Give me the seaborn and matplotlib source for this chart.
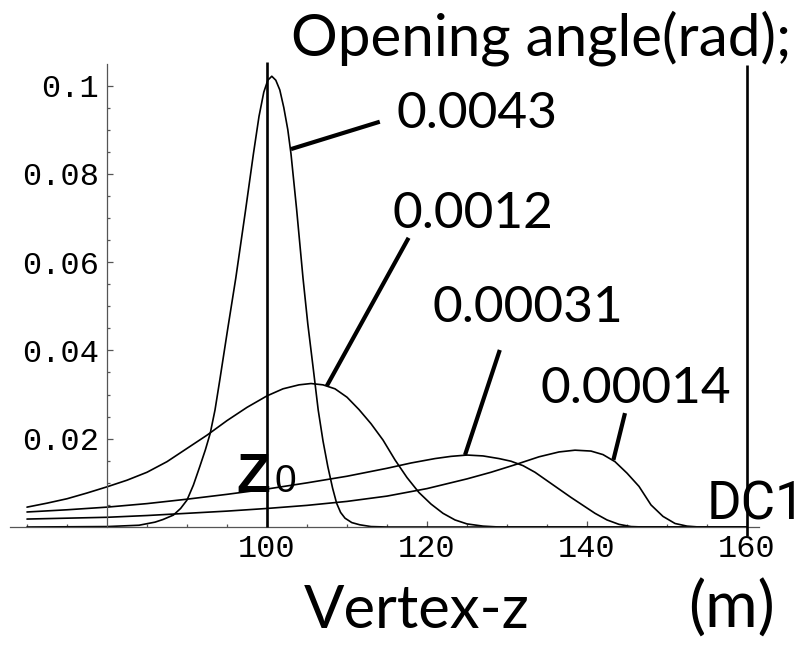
import numpy as np
import pandas as pd
import matplotlib
matplotlib.use("Agg")
import matplotlib.pyplot as plt
import seaborn as sns
from matplotlib.ticker import FixedLocator

# Vertex-z distributions for each opening angle (rad)
angles = ["0.0043", "0.0012", "0.00031", "0.00014"]

z_0043 = [70, 80, 84, 86, 87, 88.3, 89.2, 90, 90.8, 91.6, 92.3, 92.9, 93.5, 94.1, 95.1,
          96.1, 97.3, 98.3, 99.0, 99.6, 100.1, 100.6, 101.1, 101.6, 102.1, 102.6, 103.0,
          103.7, 104.5, 105.1, 105.8, 106.4, 107.0, 107.6, 108.2, 108.7, 109.2, 109.75,
          110.6, 111.6, 113, 115, 160]
p_0043 = [0.0, 0.0001, 0.0004, 0.0011, 0.0017, 0.0027, 0.0042, 0.0061, 0.0095, 0.0137,
          0.0175, 0.0212, 0.0265, 0.0333, 0.0450, 0.0564, 0.0715, 0.0845, 0.0930, 0.0985,
          0.1012, 0.1021, 0.1012, 0.0990, 0.0950, 0.0900, 0.0845, 0.0720, 0.0564, 0.0460,
          0.0356, 0.0265, 0.0195, 0.0137, 0.0088, 0.0054, 0.0033, 0.0020, 0.0010, 0.0005,
          0.0001, 0.0, 0.0]

z_0012 = [70, 72.5, 75, 77.5, 80, 82.5, 85, 87.5, 90, 92.5, 95, 97.5, 100, 102, 104,
          105.5, 107, 108.5, 110, 111.5, 113, 114.5, 116, 117.5, 119, 120.5, 122, 123.5,
          125, 127, 129, 160]
p_0012 = [0.0045, 0.0054, 0.0064, 0.0077, 0.0091, 0.0106, 0.0124, 0.0148, 0.0178, 0.0208,
          0.0241, 0.0271, 0.0297, 0.0313, 0.0322, 0.0325, 0.0322, 0.0313, 0.0294, 0.0266,
          0.0234, 0.0197, 0.0152, 0.0112, 0.0078, 0.0052, 0.0031, 0.0016, 0.0007, 0.0002,
          0.0, 0.0]

z_00031 = [70, 75, 80, 85, 90, 95, 100, 105, 110, 115, 118, 121, 123, 125, 127, 129,
           130.5, 132, 133.5, 135, 136.5, 138, 139.5, 141, 142.5, 144, 145.5, 147, 160]
p_00031 = [0.0034, 0.0039, 0.0045, 0.0053, 0.0063, 0.0074, 0.0086, 0.0100, 0.0115, 0.0133,
           0.0145, 0.0155, 0.0160, 0.0163, 0.0161, 0.0155, 0.0149, 0.0139, 0.0124, 0.0105,
           0.0086, 0.0067, 0.0049, 0.0031, 0.0016, 0.0006, 0.0001, 0.0, 0.0]

z_00014 = [70, 75, 80, 85, 90, 95, 100, 105, 110, 115, 120, 125, 128, 131, 134, 136.5,
           138.5, 140.5, 142, 143.5, 145, 146.5, 148, 149.5, 151, 152.5, 154, 160]
p_00014 = [0.0018, 0.0020, 0.0022, 0.0026, 0.0031, 0.0036, 0.0042, 0.0049, 0.0058, 0.0070,
           0.0087, 0.0109, 0.0124, 0.0141, 0.0159, 0.0170, 0.0174, 0.0172, 0.0164, 0.0148,
           0.0122, 0.0092, 0.0050, 0.0024, 0.0008, 0.0002, 0.0, 0.0]

curves = {"0.0043": (z_0043, p_0043), "0.0012": (z_0012, p_0012),
          "0.00031": (z_00031, p_00031), "0.00014": (z_00014, p_00014)}

# Reference positions: target point Z0 and drift chamber DC1
ref_z = [100, 160]

x_ticks = [100, 120, 140, 160]
x_tick_labels = ["100", "120", "140", "160"]
y_ticks = [0.02, 0.04, 0.06, 0.08, 0.1]
y_tick_labels = ["0.02", "0.04", "0.06", "0.08", "0.1"]

rows = []
for a in angles:
    zs, ps = curves[a]
    for z, p in zip(zs, ps):
        rows.append({"angle": a, "z": z, "p": p})
df = pd.DataFrame(rows)

sns.set_theme(style="white")
plt.rcParams["font.family"] = ["Lato", "DejaVu Sans"]
plt.rcParams["text.color"] = "black"

fig = plt.figure(figsize=(8.07, 6.47), dpi=100)
ax = fig.add_axes([0, 0, 1, 1])
ax.set_xlim(66.625, 167.5)
ax.set_ylim(-0.02718, 0.11937)

sns.lineplot(data=df, x="z", y="p", units="angle", estimator=None, sort=False,
             color="black", lw=1.2, ax=ax, legend=False)

# Z0 and DC1 markers
ax.vlines(ref_z[0], 0, 0.1053, color="black", lw=1.9, zorder=3)
ax.vlines(ref_z[1], -0.002, 0.1046, color="black", lw=1.9, zorder=3)

# Axes crossing at (80, 0)
for s in ["top", "right"]:
    ax.spines[s].set_visible(False)
ax.spines["left"].set_position(("data", 80))
ax.spines["bottom"].set_position(("data", 0))
ax.spines["left"].set_bounds(0, 0.1049)
ax.spines["bottom"].set_bounds(67.9, 161.5)
for s in ["left", "bottom"]:
    ax.spines[s].set_color("#555555")
    ax.spines[s].set_linewidth(0.9)

ax.xaxis.set_major_locator(FixedLocator(x_ticks))
ax.set_xticklabels(x_tick_labels)
ax.xaxis.set_minor_locator(FixedLocator([70, 75, 85, 90, 95, 105, 110, 115, 125, 130,
                                         135, 145, 150, 155]))
ax.yaxis.set_major_locator(FixedLocator(y_ticks))
ax.set_yticklabels(y_tick_labels)
ax.yaxis.set_minor_locator(FixedLocator([v / 1000 for v in range(5, 100, 5) if v % 20]))

mono = "Liberation Mono"
ax.tick_params(which="both", direction="in", color="#555555", width=0.9,
               bottom=True, left=True)
ax.tick_params(axis="x", which="major", length=4.5, pad=5)
ax.tick_params(axis="x", which="minor", length=2.5)
ax.tick_params(axis="y", which="major", length=4.5, pad=6)
ax.tick_params(axis="y", which="minor", length=2.5)
for lab in ax.get_xticklabels() + ax.get_yticklabels():
    lab.set_fontfamily(mono)
    lab.set_fontsize(23)
    lab.set_color("black")
ax.set_xlabel("")
ax.set_ylabel("")

# Annotation leaders and labels
leaders = {"0.0043": ((103.0, 0.0856), (114.1, 0.0918)),
           "0.0012": ((107.46, 0.0319), (117.7, 0.0655)),
           "0.00031": ((124.75, 0.0163), (129.1, 0.0401)),
           "0.00014": ((143.3, 0.0152), (144.75, 0.0258))}
label_pos = {"0.0043": (116.25, 0.0904), "0.0012": (115.75, 0.0677),
             "0.00031": (120.75, 0.0464), "0.00014": (134.25, 0.0281)}
for a in angles:
    (x0, y0), (x1, y1) = leaders[a]
    ax.plot([x0, x1], [y0, y1], color="black", lw=3.0, solid_capstyle="butt")
    tx, ty = label_pos[a]
    ax.text(tx, ty, a, fontsize=37, va="baseline", ha="left", color="black")

ax.text(103.0, 0.1069, "Opening angle(rad);", fontsize=42, va="baseline", ha="left",
        color="black")
ax.text(104.6, -0.0229, "Vertex-z", fontsize=43, va="baseline", ha="left", color="black")
ax.text(152.6, -0.0229, "(m)", fontsize=46, va="baseline", ha="left", color="black")

ax.text(96.2, 0.0080, "Z", fontsize=40, family=["Liberation Sans", "DejaVu Sans"],
        fontweight="bold", va="baseline", ha="left", color="black")
ax.text(101.0, 0.0080, "0", fontsize=28, family=["Liberation Sans", "DejaVu Sans"],
        va="baseline", ha="left", color="black")
ax.text(155.0, 0.0016, "DC1", fontsize=38, family=["Roboto", "DejaVu Sans"],
        va="baseline", ha="left", color="black")

fig.savefig("out.png", dpi=100)
